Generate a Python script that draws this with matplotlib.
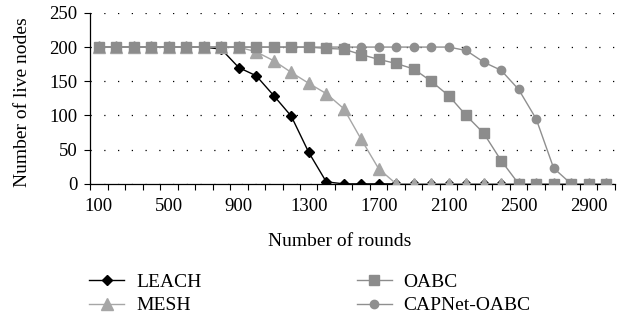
import matplotlib
matplotlib.use("Agg")
import matplotlib.pyplot as plt
import numpy as np

plt.rcParams['font.family'] = ['Liberation Serif', 'DejaVu Serif']

rounds = list(range(100, 3001, 100))
leach = [200, 200, 200, 200, 200, 200, 200, 197, 170, 158, 129, 99, 46, 3, 0, 0, 0,
         0, 0, 0, 0, 0, 0, 0, 0, 0, 0, 0, 0, 0]
mesh = [200, 200, 200, 200, 200, 200, 200, 200, 200, 193, 180, 163, 147, 132, 110, 65, 22,
        0, 0, 0, 0, 0, 0, 0, 0, 0, 0, 0, 0, 0]
oabc = [200, 200, 200, 200, 200, 200, 200, 200, 200, 200, 200, 200, 200, 198, 197, 189, 182,
        176, 168, 150, 129, 100, 74, 34, 0, 0, 0, 0, 0, 0]
capnet = [200, 200, 200, 200, 200, 200, 200, 200, 200, 200, 200, 200, 200, 200, 200, 200, 200,
          200, 200, 200, 200, 195, 178, 166, 138, 95, 23, 0, 0, 0]
tick_labels = [str(r) for r in rounds[::4]]

fig = plt.figure(figsize=(6.3, 3.22), dpi=100)
ax = fig.add_axes([0.143, 0.429, 0.833, 0.531])

x = np.arange(len(rounds))
ax.plot(x, leach, color='black', lw=1.0, marker='D', ms=5.5, mfc='black', mec='black', zorder=3, label='LEACH')
ax.plot(x, mesh, color='#a6a6a6', lw=1.0, marker='^', ms=9, mfc='#a6a6a6', mec='#a6a6a6', zorder=4, label='MESH')
ax.plot(x, capnet, color='#8f8f8f', lw=1.0, marker='o', ms=6, mfc='#8f8f8f', mec='#8f8f8f', zorder=5, label='CAPNet-OABC')
ax.plot(x, oabc, color='#8c8c8c', lw=1.0, marker='s', ms=7, mfc='#8c8c8c', mec='#8c8c8c', zorder=6, label='OABC')

ax.set_xlim(-0.5, len(rounds) - 0.5)
ax.set_ylim(0, 250)
ax.set_yticks([0, 50, 100, 150, 200, 250])
ax.set_xticks(x[::4])
ax.set_xticklabels(tick_labels)
ax.set_xticks(np.arange(-0.5, len(rounds), 1), minor=True)
ax.tick_params(axis='x', which='major', length=0, labelsize=13.5, pad=10.5)
ax.tick_params(axis='x', which='minor', length=4, direction='out', width=0.8)
ax.tick_params(axis='y', which='major', length=4, direction='out', labelsize=13.5, width=0.8, pad=5)

for s in ['top', 'right']:
    ax.spines[s].set_visible(False)
for s in ['left', 'bottom']:
    ax.spines[s].set_linewidth(0.9)
    ax.spines[s].set_zorder(2)

ax.yaxis.grid(True, linestyle=(0, (1, 10)), color='black', lw=0.9)
ax.set_axisbelow(True)

ax.set_xlabel('Number of rounds', fontsize=14)
ax.xaxis.set_label_coords(0.476, -0.29)
ax.set_ylabel('Number of live nodes', fontsize=14)
ax.yaxis.set_label_coords(-0.112, 0.48)

handles, labels = ax.get_legend_handles_labels()
order = [0, 1, 3, 2]
fig.legend([handles[i] for i in order], [labels[i] for i in order],
           loc='center', bbox_to_anchor=(0.492, 0.088), ncol=2, frameon=False,
           fontsize=14, handlelength=1.8, columnspacing=8.0, labelspacing=0.32,
           handletextpad=0.6)

fig.savefig('out.png', dpi=100)
